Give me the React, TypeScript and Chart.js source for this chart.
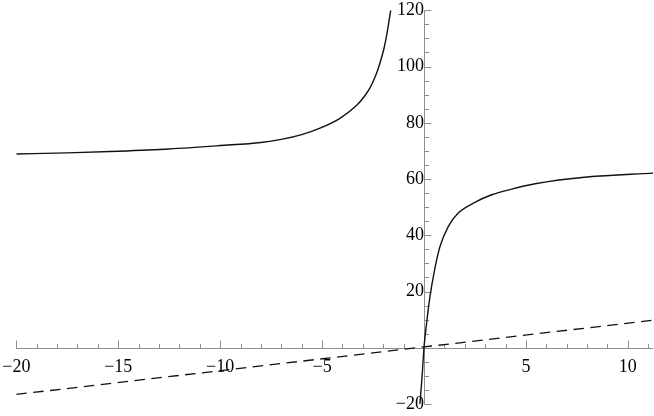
import React, { useEffect, useRef } from "react";
import { Chart, registerables } from "chart.js";

Chart.register(...registerables);

// Left branch of the curve (x < asymptote)
const leftX = [-20, -17.5, -15, -12.5, -10, -8, -7, -6, -5.1, -4.12, -3.3, -2.9, -2.65, -2.4, -2.24, -1.96, -1.8, -1.67, -1.63];
const leftY = [68.9, 69.3, 69.9, 70.7, 71.9, 73.0, 74.1, 75.8, 78.1, 81.6, 86.2, 89.6, 92.4, 96.3, 99.4, 106.5, 112.4, 118.3, 120];

// Right branch of the curve
const rightX = [-0.2, -0.09, 0, 0.13, 0.29, 0.54, 0.785, 1.19, 1.68, 2.5, 3.32, 4.3, 5.45, 8, 11.25];
const rightY = [-20, -10, 0, 8.8, 18.0, 28.4, 36.0, 43.1, 47.9, 51.7, 54.4, 56.4, 58.3, 60.7, 62.1];

// Dashed straight line
const lineX = [-20, 11.25];
const lineY = [-16.6, 9.8];

// Axis ticks
const xTickValues = [-20, -15, -10, -5, 5, 10];
const yTickValues = [-20, 20, 40, 60, 80, 100, 120];
const xMinorStep = 1;
const yMinorStep = 5;

const X_MIN = -20;
const X_MAX = 11.25;
const Y_MIN = -20;
const Y_MAX = 120;

const fmt = (v: number) => (v < 0 ? "\u2212" + Math.abs(v) : String(v));
const toPts = (xs: number[], ys: number[]) => xs.map((x, i) => ({ x, y: ys[i] }));

const AXIS_COLOR = "#8f8f8f";

const axesPlugin = {
  id: "mathAxes",
  beforeDatasetsDraw(chart: any) {
    const { ctx, scales } = chart;
    const xs = scales.x;
    const ys = scales.y;
    const x0 = Math.round(xs.getPixelForValue(0)) + 0.5;
    const y0 = Math.round(ys.getPixelForValue(0)) + 0.5;
    ctx.save();
    ctx.strokeStyle = AXIS_COLOR;
    ctx.lineWidth = 1;
    ctx.beginPath();
    ctx.moveTo(xs.getPixelForValue(X_MIN), y0);
    ctx.lineTo(xs.getPixelForValue(X_MAX), y0);
    ctx.moveTo(x0, ys.getPixelForValue(Y_MIN));
    ctx.lineTo(x0, ys.getPixelForValue(Y_MAX));
    for (let v = Math.ceil(X_MIN); v <= X_MAX; v += xMinorStep) {
      if (v === 0) continue;
      const major = v % 5 === 0;
      const px = Math.round(xs.getPixelForValue(v)) + 0.5;
      ctx.moveTo(px, y0);
      ctx.lineTo(px, y0 - (major ? 8 : 4.5));
    }
    for (let v = Y_MIN; v <= Y_MAX; v += yMinorStep) {
      if (v === 0) continue;
      const major = v % 20 === 0;
      const py = Math.round(ys.getPixelForValue(v)) + 0.5;
      ctx.moveTo(x0, py);
      ctx.lineTo(x0 + (major ? 7 : 4.5), py);
    }
    ctx.stroke();
    ctx.restore();
  },
};

export default function App() {
  const canvasRef = useRef<HTMLCanvasElement | null>(null);

  useEffect(() => {
    if (!canvasRef.current) return;
    const font = { family: "'Liberation Serif', 'DejaVu Serif', serif", size: 18, lineHeight: 1.1 };
    const chart = new Chart(canvasRef.current, {
      type: "scatter",
      data: {
        datasets: [
          {
            data: toPts(leftX, leftY),
            showLine: true,
            borderColor: "#111",
            borderWidth: 1.4,
            pointRadius: 0,
            cubicInterpolationMode: "monotone",
          },
          {
            data: toPts(rightX, rightY),
            showLine: true,
            borderColor: "#111",
            borderWidth: 1.4,
            pointRadius: 0,
            cubicInterpolationMode: "monotone",
          },
          {
            data: toPts(lineX, lineY),
            showLine: true,
            borderColor: "#111",
            borderWidth: 1.3,
            borderDash: [10.5, 6.5],
            pointRadius: 0,
          },
        ],
      },
      options: {
        animation: false,
        responsive: false,
        layout: { padding: { left: 16.3, right: 0.7, top: 10.3, bottom: 12 } },
        plugins: { legend: { display: false }, tooltip: { enabled: false } },
        scales: {
          x: {
            type: "linear",
            min: X_MIN,
            max: X_MAX,
            position: { y: 0 } as any,
            grid: { display: false, drawTicks: true, tickLength: 9.5 },
            border: { display: false },
            afterBuildTicks: (s: any) => {
              s.ticks = xTickValues.map((v) => ({ value: v }));
            },
            ticks: {
              autoSkip: false,
              maxRotation: 0,
              padding: 0,
              color: "#000",
              font,
              callback: (v: any) => fmt(Number(v)),
            },
          },
          y: {
            type: "linear",
            min: Y_MIN,
            max: Y_MAX,
            position: { x: 0 } as any,
            grid: { display: false, drawTicks: true, tickLength: 7 },
            border: { display: false },
            afterBuildTicks: (s: any) => {
              s.ticks = yTickValues.map((v) => ({ value: v }));
            },
            ticks: {
              autoSkip: false,
              padding: 0,
              color: "#000",
              font,
              callback: (v: any) => fmt(Number(v)),
            },
          },
        },
      },
      plugins: [axesPlugin],
    } as any);
    return () => chart.destroy();
  }, []);

  return (
    <div style={{ position: "absolute", left: 0, top: 0, width: 654, height: 416, background: "#fff" }}>
      <canvas ref={canvasRef} width={654} height={416} style={{ display: "block" }} />
    </div>
  );
}
